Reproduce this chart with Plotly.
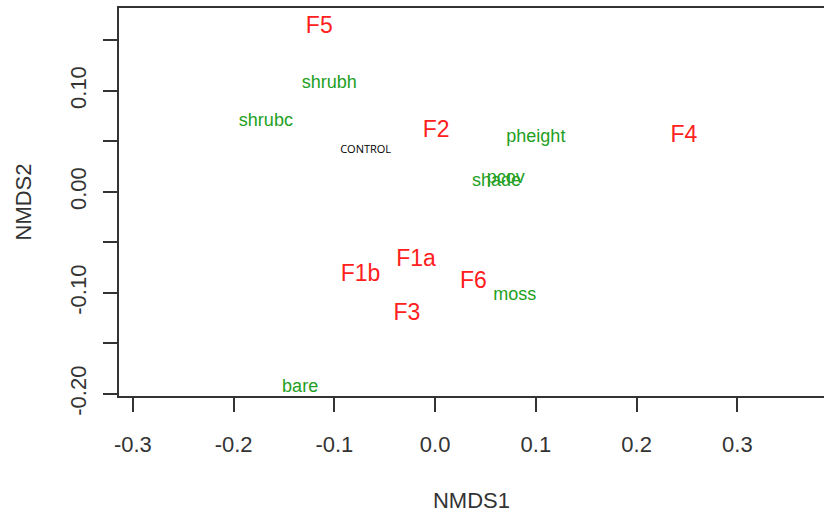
import plotly.graph_objects as go

# Site scores (red labels)
site_names = ["F5", "F2", "F4", "F1a", "F1b", "F6", "F3"]
site_x = [-0.115, 0.001, 0.247, -0.019, -0.074, 0.038, -0.028]
site_y = [0.163, 0.060, 0.055, -0.068, -0.082, -0.089, -0.121]

# Environmental variables (green labels)
env_names = ["shrubh", "shrubc", "pheight", "shade", "pcov", "moss", "bare"]
env_x = [-0.105, -0.168, 0.100, 0.061, 0.070, 0.079, -0.134]
env_y = [0.107, 0.070, 0.054, 0.010, 0.013, -0.103, -0.194]

# Treatment label (black)
ctrl_names = ["CONTROL"]
ctrl_x = [-0.069]
ctrl_y = [0.041]

x_tickvals = [-0.3, -0.2, -0.1, 0.0, 0.1, 0.2, 0.3]
x_ticktext = ["-0.3", "-0.2", "-0.1", "0.0", "0.1", "0.2", "0.3"]
y_tickvals = [-0.20, -0.15, -0.10, -0.05, 0.00, 0.05, 0.10, 0.15]
y_ticktext = ["-0.20", "", "-0.10", "", "0.00", "", "0.10", ""]

FONT = "Liberation Sans, Arial, sans-serif"

fig = go.Figure()
fig.add_trace(go.Scatter(x=env_x, y=env_y, text=env_names, mode="text",
                         textfont=dict(family=FONT, size=18, color="#22a022"),
                         textposition="middle center", showlegend=False, hoverinfo="skip"))
fig.add_trace(go.Scatter(x=site_x, y=site_y, text=site_names, mode="text",
                         textfont=dict(family=FONT, size=23, color="#ff2020"),
                         textposition="middle center", showlegend=False, hoverinfo="skip"))
fig.add_trace(go.Scatter(x=ctrl_x, y=ctrl_y, text=ctrl_names, mode="text",
                         textfont=dict(family="Open Sans, sans-serif", size=11, color="#000000"),
                         textposition="middle center", showlegend=False, hoverinfo="skip"))

fig.update_layout(
    width=824, height=515,
    margin=dict(l=119, r=0, t=8, b=119),
    paper_bgcolor="white", plot_bgcolor="white",
    font=dict(family=FONT, size=22, color="#222222"),
)
fig.update_xaxes(
    range=[-0.3138, 0.386], tickvals=x_tickvals, ticktext=x_ticktext,
    showgrid=False, zeroline=False, showline=True, linecolor="#333333", linewidth=1.5,
    mirror=True, ticks="outside", ticklen=14, tickcolor="#333333", tickwidth=1.5,
    tickfont=dict(size=22, color="#333333"), ticklabelstandoff=14,
    title=dict(text="NMDS1", font=dict(size=22, color="#333333"), standoff=36),
)
fig.update_yaxes(
    range=[-0.202, 0.182], tickvals=y_tickvals, ticktext=y_ticktext,
    showgrid=False, zeroline=False, showline=True, linecolor="#333333", linewidth=1.5,
    ticks="outside", ticklen=14, tickcolor="#333333", tickwidth=1.5,
    tickangle=-90, tickfont=dict(size=22, color="#333333"), ticklabelstandoff=8,
    title=dict(text="NMDS2", font=dict(size=22, color="#333333"), standoff=29),
)

fig.write_html("out.html")
